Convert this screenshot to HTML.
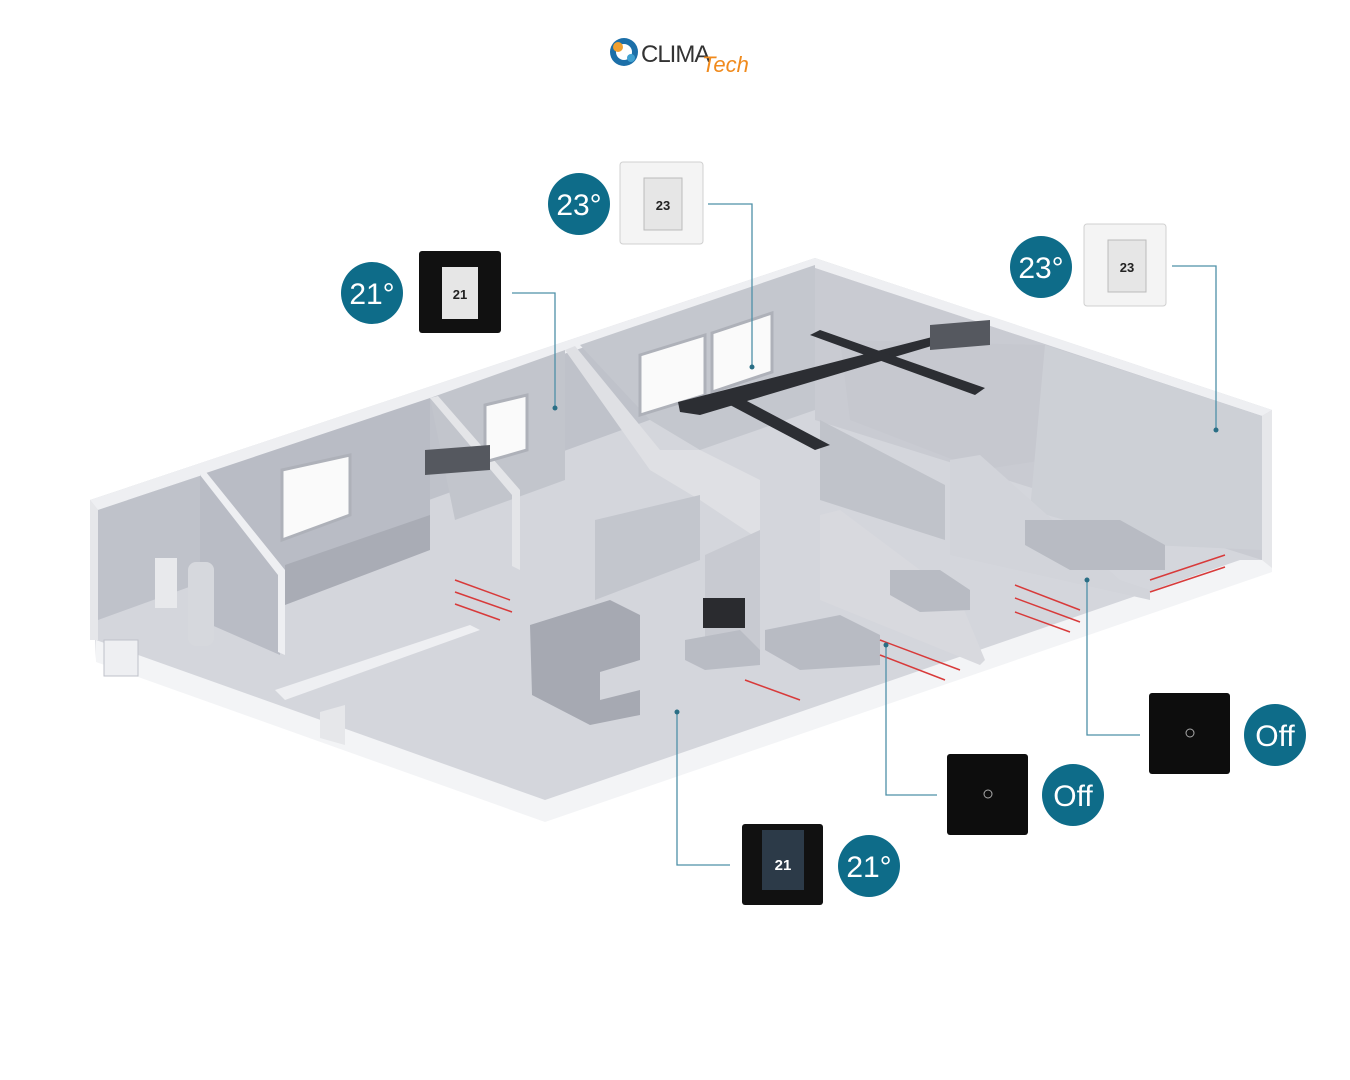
<!DOCTYPE html>
<html><head><meta charset="utf-8">
<style>
html,body{margin:0;padding:0;background:#fff;width:1350px;height:1080px;overflow:hidden}
svg{display:block}
text{font-family:"Liberation Sans",sans-serif}
</style></head><body>
<svg width="1350" height="1080" viewBox="0 0 1350 1080">
<!-- logo -->
<g>
<circle cx="624" cy="52" r="14" fill="#1c6fa8"/>
<circle cx="624" cy="52" r="8" fill="#fff"/>
<circle cx="618" cy="47" r="5" fill="#f0a030"/>
<circle cx="631" cy="58" r="4" fill="#3fa0d0"/>
<text x="641" y="62" font-size="24" fill="#333" letter-spacing="-1">CLIMA</text>
<text x="702" y="72" font-size="22" font-style="italic" fill="#f08a1c" font-family="Liberation Serif">Tech</text>
</g>

<!-- floor base -->
<polygon points="90,500 815,258 1272,410 1272,568 545,820 96,660" fill="#d4d6dc"/>
<!-- outer bottom edges (white wall tops) -->
<polygon points="96,640 545,800 1240,560 1272,560 1272,572 545,822 96,662" fill="#f3f4f6"/>
<!-- back walls -->
<polygon points="90,500 815,258 815,270 98,510" fill="#eeeff2"/>
<polygon points="98,510 815,270 815,360 98,620" fill="#bfc2ca"/>
<polygon points="815,258 1272,410 1262,416 815,268" fill="#eeeff2"/>
<polygon points="815,268 1262,416 1262,560 815,420" fill="#c9cbd2"/>
<polygon points="1262,416 1272,410 1272,568 1262,560" fill="#e6e7ea"/>
<!-- left outer wall -->
<polygon points="90,500 98,510 98,640 90,640" fill="#e6e7ea"/>

<!-- interior rooms shading -->
<polygon points="200,475 430,398 430,520 280,580 280,655 200,620" fill="#b9bcc5"/>
<polygon points="430,398 565,350 565,480 455,520" fill="#c2c5cc"/>
<polygon points="580,345 815,265 815,410 700,450 650,420" fill="#c4c7ce"/>
<polygon points="840,340 1045,345 1045,460 980,470 850,420" fill="#c6c8cf"/>
<polygon points="1045,345 1262,416 1262,550 1150,545 1030,510" fill="#cdd0d6"/>
<!-- interior wall slabs (white tops) -->
<polygon points="200,475 206,472 285,570 285,655 278,652 278,575" fill="#eeeff2"/>
<polygon points="565,350 575,346 660,450 700,450 760,480 760,540 700,500 650,470" fill="#dfe0e4"/>
<polygon points="430,398 438,396 520,490 520,570 512,566 512,495" fill="#e4e5e8"/>
<polygon points="595,520 700,495 700,560 595,600" fill="#c3c6cd"/>
<polygon points="820,420 945,485 945,540 820,500" fill="#c0c3ca"/>
<polygon points="705,555 760,530 760,650 705,640" fill="#c8cad1"/>
<polygon points="820,515 840,510 960,600 985,660 980,665 820,600" fill="#d8d9de"/>
<polygon points="950,460 980,455 1120,580 1150,590 1150,600 950,555" fill="#d2d4da"/>
<polygon points="275,690 470,625 480,630 285,700" fill="#eeeff2"/>
<polygon points="320,712 345,705 345,745 320,738" fill="#e6e7ea"/>
<!-- windows -->
<polygon points="282,470 350,455 350,515 282,540" fill="#fafafa" stroke="#aeb1b9" stroke-width="3"/>
<polygon points="640,355 705,335 705,395 640,415" fill="#fafafa" stroke="#aeb1b9" stroke-width="3"/>
<polygon points="712,333 772,313 772,372 712,392" fill="#fafafa" stroke="#aeb1b9" stroke-width="3"/>
<polygon points="485,405 527,395 527,450 485,462" fill="#fafafa" stroke="#aeb1b9" stroke-width="3"/>
<!-- counter -->
<polygon points="285,565 430,515 430,550 285,605" fill="#a9acb5"/>
<!-- ducts -->
<polygon points="678,402 940,335 945,342 700,415 680,412" fill="#2c2e33"/>
<polygon points="810,335 820,330 985,388 975,395" fill="#2c2e33"/>
<polygon points="730,405 745,400 830,445 815,450" fill="#2c2e33"/>
<polygon points="930,325 990,320 990,345 930,350" fill="#55585f"/>
<polygon points="425,450 490,445 490,470 425,475" fill="#55585f"/>
<!-- sofa, tv -->
<polygon points="530,625 610,600 640,615 640,660 600,672 600,700 640,690 640,715 590,725 532,695" fill="#a6a9b2"/>
<rect x="703" y="598" width="42" height="30" fill="#2a2b2f"/>
<polygon points="685,640 740,630 760,650 760,665 705,670 685,660" fill="#b9bcc4"/>
<!-- beds -->
<polygon points="1025,520 1120,520 1165,545 1165,570 1070,570 1025,545" fill="#b8bbc3"/>
<polygon points="765,630 840,615 880,635 880,665 800,670 765,650" fill="#b8bbc3"/>
<polygon points="890,570 940,570 970,590 970,610 920,612 890,595" fill="#b8bbc3"/>
<!-- boiler -->
<rect x="155" y="558" width="22" height="50" fill="#e8e9ec"/>
<rect x="188" y="562" width="26" height="84" rx="8" fill="#d6d8dd"/>
<rect x="104" y="640" width="34" height="36" fill="#eeeff2" stroke="#bfc2ca"/>
<!-- underfloor heating red lines -->
<g stroke="#d83a3a" stroke-width="1.5" fill="none">
<path d="M455,580 L510,600 M455,592 L512,612 M455,604 L500,620"/>
<path d="M1015,585 L1080,610 M1015,598 L1080,622 M1015,612 L1070,632 M1150,580 L1225,555 M1150,592 L1225,567"/>
<path d="M880,640 L960,670 M880,655 L945,680 M745,680 L800,700"/>
</g>

<!-- connector lines -->
<g stroke="#4e90a8" stroke-width="1.3" fill="none">
<path d="M708,204 H752 V367"/>
<path d="M512,293 H555 V408"/>
<path d="M1172,266 H1216 V430"/>
<path d="M1140,735 H1087 V580"/>
<path d="M937,795 H886 V645"/>
<path d="M730,865 H677 V712"/>
</g>
<g fill="#2a6e85">
<circle cx="752" cy="367" r="2.5"/><circle cx="555" cy="408" r="2.5"/><circle cx="1216" cy="430" r="2.5"/>
<circle cx="1087" cy="580" r="2.5"/><circle cx="886" cy="645" r="2.5"/><circle cx="677" cy="712" r="2.5"/>
</g>

<!-- thermostats -->
<g>
<rect x="620" y="162" width="83" height="82" rx="3" fill="#f4f4f4" stroke="#d0d0d0"/>
<rect x="644" y="178" width="38" height="52" fill="#e6e6e6" stroke="#bbb"/>
<text x="663" y="210" font-size="13" font-weight="bold" text-anchor="middle" fill="#222">23</text>
<rect x="1084" y="224" width="82" height="82" rx="3" fill="#f4f4f4" stroke="#d0d0d0"/>
<rect x="1108" y="240" width="38" height="52" fill="#e6e6e6" stroke="#bbb"/>
<text x="1127" y="272" font-size="13" font-weight="bold" text-anchor="middle" fill="#222">23</text>
<rect x="419" y="251" width="82" height="82" rx="3" fill="#111"/>
<rect x="442" y="267" width="36" height="52" fill="#e6e6e6"/>
<text x="460" y="299" font-size="13" font-weight="bold" text-anchor="middle" fill="#222">21</text>
<rect x="742" y="824" width="81" height="81" rx="3" fill="#111"/>
<rect x="762" y="830" width="42" height="60" fill="#2c3a48"/>
<text x="783" y="870" font-size="15" font-weight="bold" text-anchor="middle" fill="#fff">21</text>
<rect x="947" y="754" width="81" height="81" rx="3" fill="#0d0d0d"/>
<circle cx="988" cy="794" r="4" fill="none" stroke="#aaa"/>
<rect x="1149" y="693" width="81" height="81" rx="3" fill="#0d0d0d"/>
<circle cx="1190" cy="733" r="4" fill="none" stroke="#aaa"/>
</g>

<!-- circles -->
<g fill="#0e6c89">
<circle cx="579" cy="204" r="31"/><circle cx="372" cy="293" r="31"/><circle cx="1041" cy="267" r="31"/>
<circle cx="1275" cy="735" r="31"/><circle cx="1073" cy="795" r="31"/><circle cx="869" cy="866" r="31"/>
</g>
<g fill="#fff" font-size="30" text-anchor="middle">
<text x="579" y="215">23°</text><text x="372" y="304">21°</text><text x="1041" y="278">23°</text>
<text x="1275" y="746">Off</text><text x="1073" y="806">Off</text><text x="869" y="877">21°</text>
</g>
</svg>
</body></html>
